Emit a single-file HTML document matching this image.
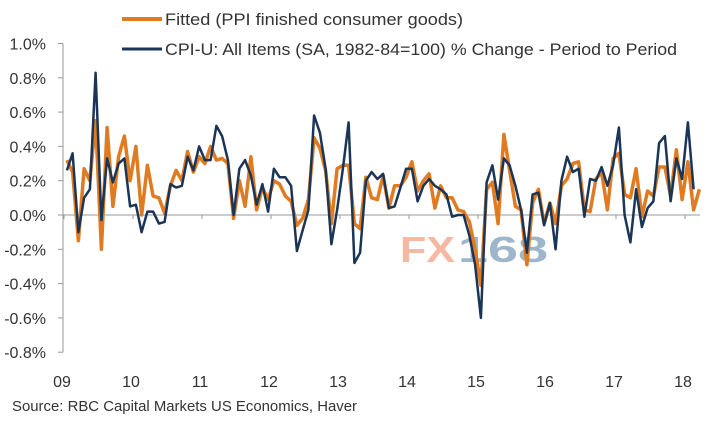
<!DOCTYPE html>
<html><head><meta charset="utf-8"><style>
body{margin:0;background:#fff;width:708px;height:421px;overflow:hidden;font-family:"Liberation Sans",sans-serif}
</style></head><body>
<svg width="708" height="421">
<g>
<line x1="122" y1="19" x2="162" y2="19" stroke="#E07B22" stroke-width="4"/>
<text x="165" y="25" font-size="17" textLength="298" lengthAdjust="spacingAndGlyphs" fill="#333">Fitted (PPI finished consumer goods)</text>
<line x1="122" y1="49" x2="162" y2="49" stroke="#1B3557" stroke-width="3"/>
<text x="165" y="55" font-size="17" textLength="512" lengthAdjust="spacingAndGlyphs" fill="#333">CPI-U: All Items (SA, 1982-84=100) % Change - Period to Period</text>
</g>
<text x="400" y="262" font-size="36" font-weight="bold" textLength="55" lengthAdjust="spacingAndGlyphs" fill="#F6B8A0">FX</text>
<text x="458" y="262" font-size="36" font-weight="bold" textLength="90" lengthAdjust="spacingAndGlyphs" fill="#9DB6CC">168</text>
<g id="axes"></g>
<g id="series"></g>
<text x="12" y="411" font-size="15" textLength="345" lengthAdjust="spacingAndGlyphs" fill="#333">Source: RBC Capital Markets US Economics, Haver</text>
</svg>
<script>
const yTicks=[1.0,0.8,0.6,0.4,0.2,0.0,-0.2,-0.4,-0.6,-0.8];
const yearLabels=["09","10","11","12","13","14","15","16","17","18"];
const cpi=[0.26,0.36,-0.1,0.1,0.15,0.83,-0.03,0.33,0.19,0.30,0.33,0.05,0.06,-0.1,0.02,0.02,-0.05,-0.04,0.18,0.16,0.17,0.34,0.26,0.40,0.32,0.32,0.52,0.46,0.32,0.0,0.27,0.32,0.23,0.06,0.18,0.02,
0.27,0.22,0.22,0.17,-0.21,-0.09,0.03,0.58,0.48,0.27,-0.17,0.03,0.27,0.54,-0.28,-0.22,0.2,0.25,0.21,0.24,0.04,0.05,0.16,0.27,0.27,0.08,0.17,0.21,0.17,0.15,0.12,-0.01,0.0,0.0,-0.12,-0.29,-0.6,
0.19,0.29,0.09,0.33,0.29,0.17,0.03,-0.22,0.12,0.13,-0.06,0.07,-0.2,0.2,0.34,0.25,0.27,-0.01,0.21,0.2,0.28,0.17,0.29,0.51,0.0,-0.16,0.15,-0.07,0.04,0.08,0.42,0.46,0.08,0.33,0.21,0.54,0.15];
const fitted=[0.32,0.25,-0.15,0.27,0.2,0.55,-0.2,0.51,0.05,0.34,0.46,0.2,0.4,0.0,0.29,0.11,0.1,0.01,0.17,0.26,0.2,0.37,0.25,0.34,0.3,0.4,0.32,0.33,0.3,-0.02,0.2,0.05,0.34,0.03,0.16,0.09,
0.2,0.18,0.11,0.08,-0.06,-0.02,0.09,0.45,0.39,0.26,-0.05,0.27,0.29,0.29,-0.05,-0.08,0.22,0.1,0.09,0.23,0.04,0.17,0.17,0.22,0.31,0.14,0.2,0.24,0.04,0.17,0.1,0.1,0.03,0.02,-0.04,-0.2,-0.41,
0.15,0.19,-0.05,0.47,0.26,0.05,0.03,-0.29,0.07,0.15,-0.05,0.07,-0.05,0.17,0.21,0.3,0.31,0.03,0.02,0.21,0.25,0.03,0.33,0.36,0.12,0.1,0.27,-0.01,0.14,0.11,0.28,0.28,0.11,0.38,0.09,0.31,0.03,0.15];
const NS="http://www.w3.org/2000/svg";
const X0=64,MW=5.75,AX=63;
function xM(i){return X0+(i+0.5)*MW;}
function xY(k){return X0+k*12*MW;}
function yV(v){return 215-v*171.5;}
function mk(tag,attrs,parent){const e=document.createElementNS(NS,tag);for(const k in attrs)e.setAttribute(k,attrs[k]);parent.appendChild(e);return e;}
const ax=document.getElementById('axes'),se=document.getElementById('series');
let yl=mk('line',{x1:AX,y1:yV(1.0),x2:AX,y2:yV(-0.8),stroke:'#999','stroke-width':1},ax);


yTicks.forEach(v=>{
 const t=mk('line',{x1:AX-5,y1:yV(v),x2:AX,y2:yV(v),stroke:'#999'},ax);
 
 
 const l=mk('text',{x:46,y:yV(v)+6,'text-anchor':'end','font-size':16,fill:'#333'},ax);
 l.textContent=v.toFixed(1)+'%';
 
 
});
let zl=mk('line',{x1:AX,y1:yV(0),x2:700,y2:yV(0),stroke:'#999','stroke-width':1},ax);


yearLabels.forEach((s,k)=>{
 const x=xY(k);
 const t=mk('line',{x1:x,y1:yV(0),x2:x,y2:yV(0)+4,stroke:'#999'},ax);
 
 
 const l=mk('text',{x:x-2,y:387,'text-anchor':'middle','font-size':16,fill:'#333'},ax);
 l.textContent=s;
 
 
});
function path(arr){return arr.map((v,i)=>(i?'L':'M')+xM(i).toFixed(1)+','+yV(v).toFixed(1)).join('');}
const pf=mk('path',{d:path(fitted),fill:'none',stroke:'#E07B22','stroke-width':3.5,'stroke-linejoin':'round'},se);


const pc=mk('path',{d:path(cpi),fill:'none',stroke:'#1B3557','stroke-width':2.5,'stroke-linejoin':'round'},se);


</script>
</body></html>
